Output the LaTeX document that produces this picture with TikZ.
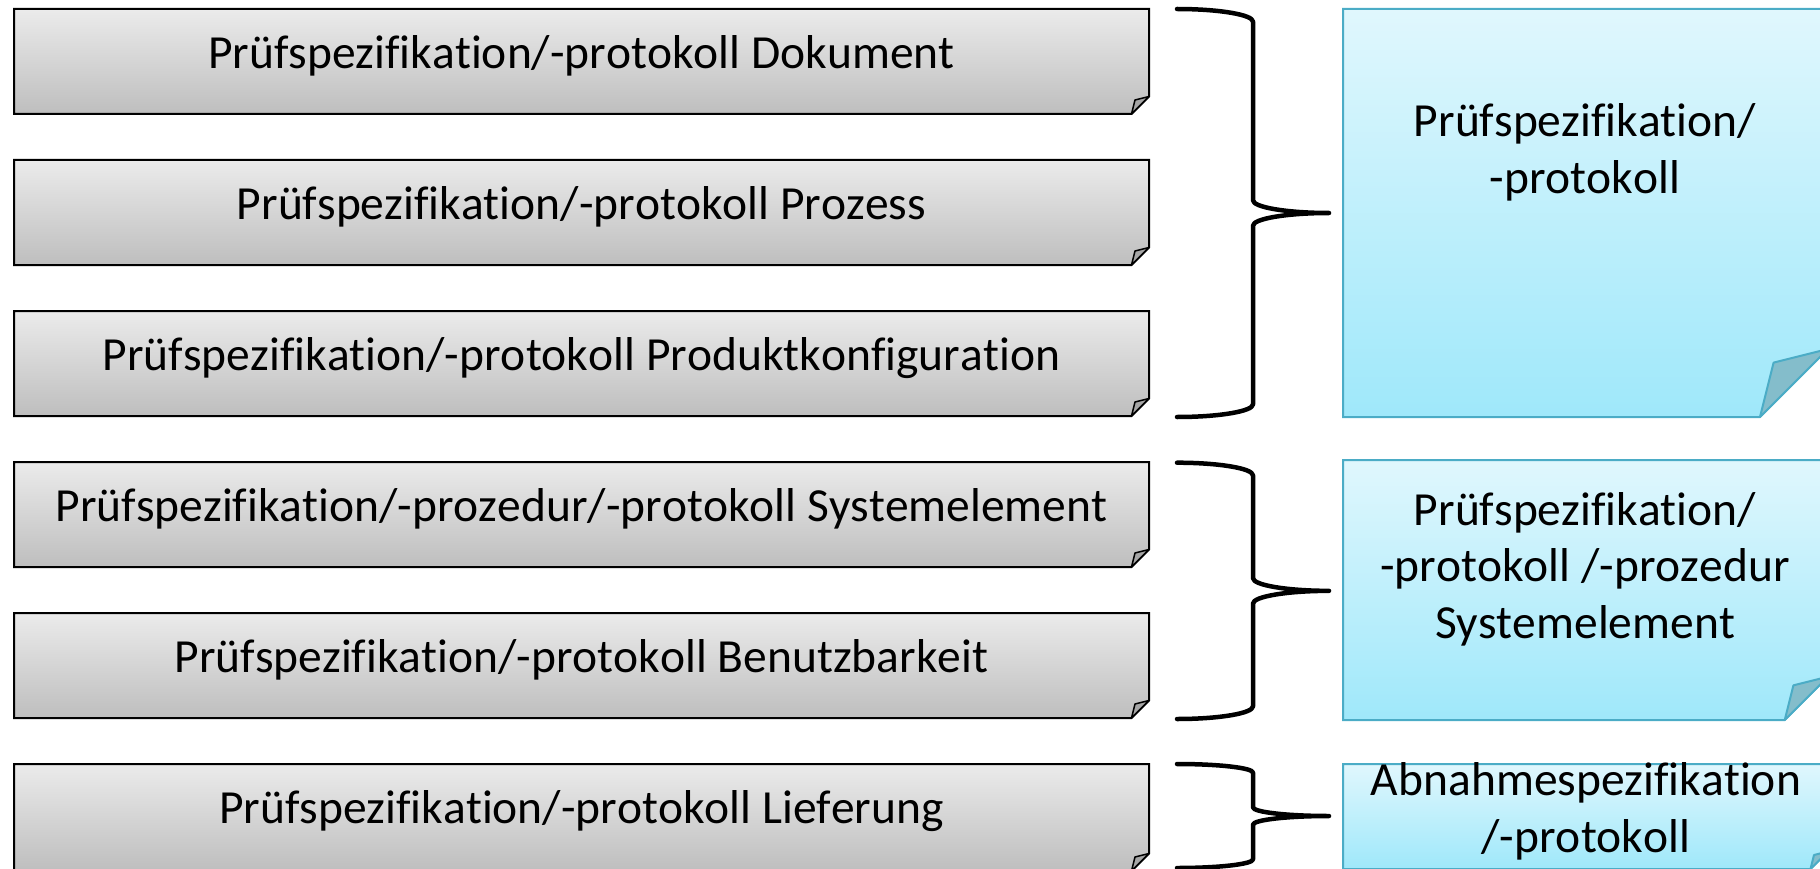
\documentclass[tikz,border=0pt]{standalone}
\usepackage{fontspec}
\setmainfont{Carlito}[Ligatures={NoCommon}, Kerning=Off]
\definecolor{gtop}{HTML}{EBEBEB}
\definecolor{gbot}{HTML}{BEBEBE}
\definecolor{gfoldc}{HTML}{A6A6A6}
\definecolor{btop}{HTML}{E0F7FD}
\definecolor{bbot}{HTML}{9FE8FA}
\definecolor{bline}{HTML}{4BACC6}
\definecolor{bfoldc}{HTML}{84BDCB}
\tikzset{
  graybox/.style={draw=black, line width=2pt, top color=gtop, bottom color=gbot},
  grayfold/.style={draw=black, line width=1.5pt, fill=gfoldc, line join=round},
  bluebox/.style={draw=bline, line width=2pt, top color=btop, bottom color=bbot},
  bluefold/.style={draw=bline, line width=2pt, fill=bfoldc, line join=round},
  bracestyle/.style={draw=black, line width=4.5pt, line cap=round, line join=round},
  boxtext/.style={font=\fontsize{47.5}{56.5}\selectfont, inner sep=0pt, anchor=base, align=center, text=black},
}
% folded-corner rectangle: #1 l, #2 t, #3 r, #4 b, #5 fold size, #6 gray/blue
\newcommand\FoldRect[6]{%
  \path[#6box] (#1,#2) -- (#3,#2) -- (#3,#4-#5) -- (#3-#5,#4) -- (#1,#4) -- cycle;
  \path[#6fold] (#3-#5,#4) -- (#3-#5+#5/5,#4-#5+#5/5) -- (#3,#4-#5) -- cycle;
}
% right brace: #1 l, #2 t, #3 r, #4 b, #5 curvature, #6 name of tip
\newcommand\RBrace[6]{%
  \pgfmathsetmacro\bhc{(#1+#3)/2}%
  \pgfmathsetmacro\bwr{(#3-#1)/2}%
  \pgfmathsetmacro\bvc{(#2+#4)/2}%
  \pgfmathsetmacro\bk{0.5523}%
  \coordinate (#6) at (#3,\bvc);
  \draw[bracestyle] (#1,#2)
    .. controls (#1+\bk*\bwr,#2) and (\bhc,#2+#5-\bk*#5) .. (\bhc,#2+#5)
    -- (\bhc,\bvc-#5)
    .. controls (\bhc,\bvc-#5+\bk*#5) and (#3-\bk*\bwr,\bvc) .. (#6)
    .. controls (#3-\bk*\bwr,\bvc) and (\bhc,\bvc+#5-\bk*#5) .. (\bhc,\bvc+#5)
    -- (\bhc,#4-#5)
    .. controls (\bhc,#4-#5+\bk*#5) and (#1+\bk*\bwr,#4) .. (#1,#4);
}
\begin{document}
\begin{tikzpicture}[x=1pt,y=-1pt]
\useasboundingbox (0,0) rectangle (1820,869);
\begin{scope}
\clip (0,0) rectangle (1820,869);
% gray boxes
\FoldRect{14}{9}{1149}{114}{17.5}{gray}
\FoldRect{14}{160}{1149}{265}{17.5}{gray}
\FoldRect{14}{311}{1149}{416}{17.5}{gray}
\FoldRect{14}{462}{1149}{567}{17.5}{gray}
\FoldRect{14}{613}{1149}{718}{17.5}{gray}
\FoldRect{14}{764}{1149}{871}{17.5}{gray}
\node[boxtext] (g1) at (581.5,68.3) {Prüfspezifikation/-protokoll Dokument};
\node[boxtext] (g2) at (581.5,219.4) {Prüfspezifikation/-protokoll Prozess};
\node[boxtext] (g3) at (581.5,370.5) {Prüfspezifikation/-protokoll Produktkonfiguration};
\node[boxtext] (g4) at (581.5,521.6) {Prüfspezifikation/-prozedur/-protokoll Systemelement};
\node[boxtext] (g5) at (581.5,672.7) {Prüfspezifikation/-protokoll Benutzbarkeit};
\node[boxtext] (g6) at (581.5,823.8) {Prüfspezifikation/-protokoll Lieferung};
% braces
\RBrace{1177}{9}{1329}{417}{12.7}{t1}
\RBrace{1177}{462.7}{1329}{719}{12.7}{t2}
\RBrace{1177}{764}{1329}{868}{8.7}{t3}
% blue notes
\FoldRect{1343}{9}{1828}{417}{68}{blue}
\FoldRect{1343}{460}{1828}{720}{43.3}{blue}
\FoldRect{1343}{764}{1828}{869}{17.5}{blue}
\node[boxtext] (n1) at (1585,193.2) {Prüfspezifikation/\\-protokoll};
\node[boxtext] (n2) at (1585,638) {Prüfspezifikation/\\-protokoll /-prozedur\\Systemelement};
\node[boxtext] (n3) at (1586,852) {Abnahmespezifikation\\/-protokoll};
\end{scope}
\end{tikzpicture}
\end{document}
